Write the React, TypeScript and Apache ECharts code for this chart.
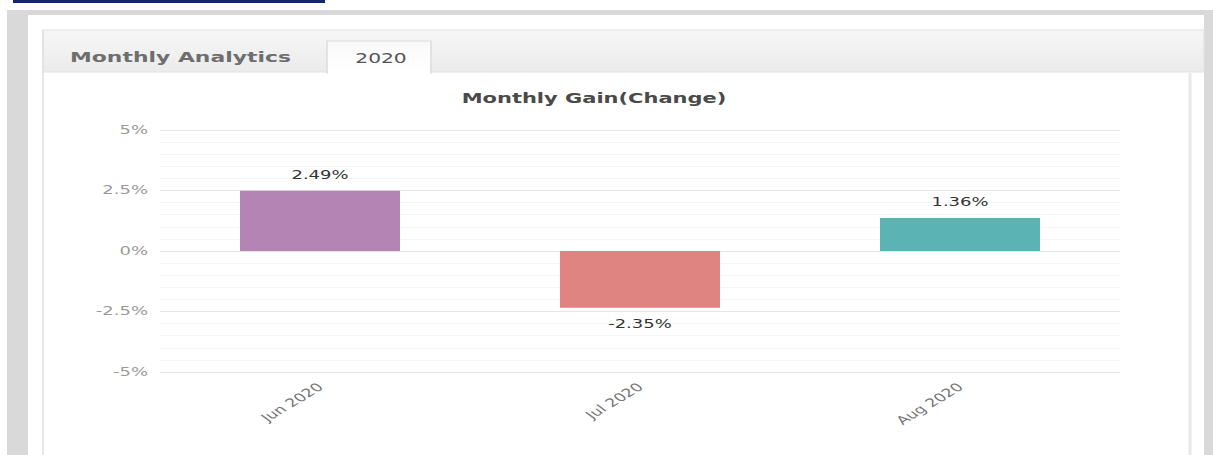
import React, { useEffect, useRef } from "react";
import * as echarts from "echarts";

const categories = ["Jun 2020", "Jul 2020", "Aug 2020"];
const gains = [2.49, -2.35, 1.36];
const barColors = ["#b484b4", "#e08482", "#5cb3b3"];
const yTicks = [-5, -2.5, 0, 2.5, 5];

const S = 1.5; // horizontal stretch of the reference
const W = 1213;
const H = 455;
const IW = W / S;
const sx = (x: number) => x / S;

export default function App() {
  const ref = useRef<HTMLDivElement>(null);
  useEffect(() => {
    if (!ref.current) return;
    const chart = echarts.init(ref.current, undefined, { renderer: "svg" });
    const font = "'DejaVu Sans', Verdana, sans-serif";
    chart.setOption({
      animation: false,
      textStyle: { fontFamily: font },
      graphic: [
        { type: "rect", shape: { x: sx(13), y: 0, width: sx(312), height: 3 }, style: { fill: "#17266b" }, z: -10 },
        { type: "rect", shape: { x: sx(7), y: 10, width: IW - sx(7), height: H - 10 }, style: { fill: "#d9d9d9" }, z: -10 },
        { type: "rect", shape: { x: sx(28), y: 15, width: sx(1204 - 28), height: H - 15 }, style: { fill: "#ffffff" }, z: -9 },
        {
          type: "rect",
          shape: { x: sx(43), y: 30, width: sx(1204 - 43), height: 42 },
          style: {
            fill: new echarts.graphic.LinearGradient(0, 0, 0, 1, [
              { offset: 0, color: "#f7f7f7" },
              { offset: 1, color: "#ebebeb" },
            ]),
            stroke: "#e2e2e2",
            lineWidth: 1,
          },
          z: -8,
        },
        { type: "line", shape: { x1: sx(43), y1: 30, x2: sx(43), y2: H }, style: { stroke: "#e0e0e0", lineWidth: 1 }, z: -7 },
        { type: "line", shape: { x1: sx(1190), y1: 73, x2: sx(1190), y2: H }, style: { stroke: "#e8e8e8", lineWidth: 2 }, z: -7 },
        {
          type: "rect",
          shape: { x: sx(327), y: 41, width: sx(104), height: 32 },
          style: {
            fill: new echarts.graphic.LinearGradient(0, 0, 0, 1, [
              { offset: 0, color: "#f9f9f9" },
              { offset: 1, color: "#ffffff" },
            ]),
            stroke: "#dcdcdc",
            lineWidth: 1,
          },
          z: -6,
        },
        { type: "rect", shape: { x: sx(328), y: 71, width: sx(102), height: 4 }, style: { fill: "#ffffff" }, z: -5 },
        {
          type: "text",
          x: sx(70),
          y: 57,
          style: { text: "Monthly Analytics", font: `bold 14.6px ${font}`, fill: "#6e6e6e", verticalAlign: "middle", textAlign: "left" },
          z: 5,
        },
        {
          type: "text",
          x: sx(381),
          y: 58,
          style: { text: "2020", font: `13.5px ${font}`, fill: "#555555", verticalAlign: "middle", textAlign: "center" },
          z: 5,
        },
        {
          type: "text",
          x: sx(594),
          y: 98,
          style: { text: "Monthly Gain(Change)", font: `bold 14px ${font}`, fill: "#4a4a4a", verticalAlign: "middle", textAlign: "center" },
          z: 5,
        },
      ],
      grid: { left: sx(160), top: 130, width: sx(960), height: 242, containLabel: false },
      xAxis: {
        type: "category",
        data: categories,
        axisLine: { show: false },
        axisTick: { show: false },
        axisLabel: { rotate: 42, color: "#777777", fontSize: 11.5, margin: 13, fontFamily: font },
        splitLine: { show: false },
      },
      yAxis: {
        type: "value",
        min: yTicks[0],
        max: yTicks[yTicks.length - 1],
        interval: 2.5,
        axisLine: { show: false },
        axisTick: { show: false },
        axisLabel: { color: "#9a9a9a", fontSize: 12, margin: 8, fontFamily: font, formatter: (v: number) => `${v}%` },
        splitLine: { show: true, lineStyle: { color: "#e6e6e6", width: 1 } },
        minorTick: { show: false, splitNumber: 5 },
        minorSplitLine: { show: true, lineStyle: { color: "#f5f5f5", width: 1 } },
      },
      series: [
        {
          type: "bar",
          barWidth: "50%",
          data: gains.map((v, i) => ({
            value: v,
            itemStyle: { color: barColors[i] },
            label: { position: v >= 0 ? "top" : "bottom" },
          })),
          label: {
            show: true,
            distance: 10,
            color: "#333333",
            fontSize: 12,
            fontFamily: font,
            formatter: (p: any) => `${p.value}%`,
          },
        },
      ],
    });
    return () => chart.dispose();
  }, []);
  return (
    <div style={{ position: "fixed", left: 0, top: 0, width: W, height: H, overflow: "hidden", background: "#ffffff" }}>
      <div
        ref={ref}
        style={{ width: IW, height: H, transform: `scaleX(${S})`, transformOrigin: "0 0" }}
      />
    </div>
  );
}
